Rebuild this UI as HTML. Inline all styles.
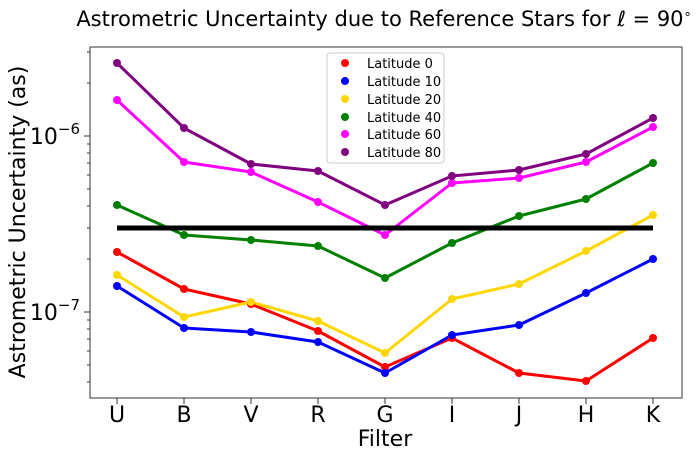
<!DOCTYPE html>
<html><head><meta charset="utf-8"><style>
html,body{margin:0;padding:0;background:#fff;}
svg{display:block;font-family:"DejaVu Sans","Liberation Sans",sans-serif;}
</style></head><body>
<svg width="700" height="459" viewBox="0 0 700 459" xmlns="http://www.w3.org/2000/svg">
<text x="384" y="26" font-size="21" text-anchor="middle">Astrometric Uncertainty due to Reference Stars for <tspan font-style="italic">ℓ</tspan> = 90<tspan dy="-8" font-size="13">∘</tspan></text>
<rect x="90" y="47" width="592" height="351" fill="none" stroke="#333" stroke-width="1"/>
<g stroke="#333" stroke-width="1">
<line x1="84" y1="136" x2="90" y2="136"/><line x1="84" y1="312" x2="90" y2="312"/>
<line x1="87" y1="83" x2="90" y2="83"/><line x1="87" y1="52" x2="90" y2="52"/>
<line x1="87" y1="259" x2="90" y2="259"/><line x1="87" y1="228" x2="90" y2="228"/><line x1="87" y1="206" x2="90" y2="206"/><line x1="87" y1="189" x2="90" y2="189"/><line x1="87" y1="175" x2="90" y2="175"/><line x1="87" y1="163" x2="90" y2="163"/><line x1="87" y1="153" x2="90" y2="153"/><line x1="87" y1="144" x2="90" y2="144"/>
<line x1="87" y1="382" x2="90" y2="382"/><line x1="87" y1="365" x2="90" y2="365"/><line x1="87" y1="351" x2="90" y2="351"/><line x1="87" y1="339" x2="90" y2="339"/><line x1="87" y1="329" x2="90" y2="329"/><line x1="87" y1="320" x2="90" y2="320"/>
<line x1="117" y1="398" x2="117" y2="404"/><line x1="184" y1="398" x2="184" y2="404"/><line x1="251" y1="398" x2="251" y2="404"/><line x1="318" y1="398" x2="318" y2="404"/><line x1="385" y1="398" x2="385" y2="404"/><line x1="452" y1="398" x2="452" y2="404"/><line x1="519" y1="398" x2="519" y2="404"/><line x1="586" y1="398" x2="586" y2="404"/><line x1="653" y1="398" x2="653" y2="404"/>
</g>
<g font-size="22" text-anchor="end">
<text x="80" y="144">10<tspan dy="-10" font-size="15">−6</tspan></text>
<text x="80" y="320">10<tspan dy="-10" font-size="15">−7</tspan></text>
</g>
<g font-size="22" text-anchor="middle">
<text x="117" y="422">U</text><text x="184" y="422">B</text><text x="251" y="422">V</text><text x="318" y="422">R</text><text x="385" y="422">G</text><text x="452" y="422">I</text><text x="519" y="422">J</text><text x="586" y="422">H</text><text x="653" y="422">K</text>
<text x="385" y="446">Filter</text>
<text transform="translate(25,222) rotate(-90)">Astrometric Uncertainty (as)</text>
</g>
<g fill="none" stroke-width="3" stroke-linejoin="round">
<polyline stroke="#ff0000" points="117,252 184,289 251,304 318,331 385,367 452,338 519,373 586,381 653,338"/>
<polyline stroke="#0000ff" points="117,286 184,328 251,332 318,342 385,373 452,335 519,325 586,293 653,259"/>
<polyline stroke="#ffd700" points="117,275 184,317 251,302 318,321 385,353 452,299 519,284 586,251 653,215"/>
<polyline stroke="#008000" points="117,205 184,235 251,240 318,246 385,278 452,243 519,216 586,199 653,163"/>
<polyline stroke="#ff00ff" points="117,100 184,162 251,172 318,202 385,235 452,183 519,178 586,162 653,127"/>
<polyline stroke="#800080" points="117,63 184,128 251,164 318,171 385,205 452,176 519,170 586,154 653,118"/>
</g>
<g>
<g fill="#ff0000"><circle cx="117" cy="252" r="4"/><circle cx="184" cy="289" r="4"/><circle cx="251" cy="304" r="4"/><circle cx="318" cy="331" r="4"/><circle cx="385" cy="367" r="4"/><circle cx="452" cy="338" r="4"/><circle cx="519" cy="373" r="4"/><circle cx="586" cy="381" r="4"/><circle cx="653" cy="338" r="4"/></g>
<g fill="#0000ff"><circle cx="117" cy="286" r="4"/><circle cx="184" cy="328" r="4"/><circle cx="251" cy="332" r="4"/><circle cx="318" cy="342" r="4"/><circle cx="385" cy="373" r="4"/><circle cx="452" cy="335" r="4"/><circle cx="519" cy="325" r="4"/><circle cx="586" cy="293" r="4"/><circle cx="653" cy="259" r="4"/></g>
<g fill="#ffd700"><circle cx="117" cy="275" r="4"/><circle cx="184" cy="317" r="4"/><circle cx="251" cy="302" r="4"/><circle cx="318" cy="321" r="4"/><circle cx="385" cy="353" r="4"/><circle cx="452" cy="299" r="4"/><circle cx="519" cy="284" r="4"/><circle cx="586" cy="251" r="4"/><circle cx="653" cy="215" r="4"/></g>
<g fill="#008000"><circle cx="117" cy="205" r="4"/><circle cx="184" cy="235" r="4"/><circle cx="251" cy="240" r="4"/><circle cx="318" cy="246" r="4"/><circle cx="385" cy="278" r="4"/><circle cx="452" cy="243" r="4"/><circle cx="519" cy="216" r="4"/><circle cx="586" cy="199" r="4"/><circle cx="653" cy="163" r="4"/></g>
<g fill="#ff00ff"><circle cx="117" cy="100" r="4"/><circle cx="184" cy="162" r="4"/><circle cx="251" cy="172" r="4"/><circle cx="318" cy="202" r="4"/><circle cx="385" cy="235" r="4"/><circle cx="452" cy="183" r="4"/><circle cx="519" cy="178" r="4"/><circle cx="586" cy="162" r="4"/><circle cx="653" cy="127" r="4"/></g>
<g fill="#800080"><circle cx="117" cy="63" r="4"/><circle cx="184" cy="128" r="4"/><circle cx="251" cy="164" r="4"/><circle cx="318" cy="171" r="4"/><circle cx="385" cy="205" r="4"/><circle cx="452" cy="176" r="4"/><circle cx="519" cy="170" r="4"/><circle cx="586" cy="154" r="4"/><circle cx="653" cy="118" r="4"/></g>
</g>
<line x1="117" y1="228" x2="653" y2="228" stroke="#000" stroke-width="5"/>
<rect x="327" y="53" width="117" height="110" rx="3" fill="#fff" fill-opacity="0.85" stroke="#ccc" stroke-width="1"/>
<g font-size="13">
<circle cx="345" cy="63" r="4" fill="#ff0000"/><text x="367" y="68">Latitude 0</text>
<circle cx="345" cy="81" r="4" fill="#0000ff"/><text x="367" y="86">Latitude 10</text>
<circle cx="345" cy="99" r="4" fill="#ffd700"/><text x="367" y="104">Latitude 20</text>
<circle cx="345" cy="117" r="4" fill="#008000"/><text x="367" y="122">Latitude 40</text>
<circle cx="345" cy="134" r="4" fill="#ff00ff"/><text x="367" y="139">Latitude 60</text>
<circle cx="345" cy="152" r="4" fill="#800080"/><text x="367" y="157">Latitude 80</text>
</g>
</svg>
</body></html>
